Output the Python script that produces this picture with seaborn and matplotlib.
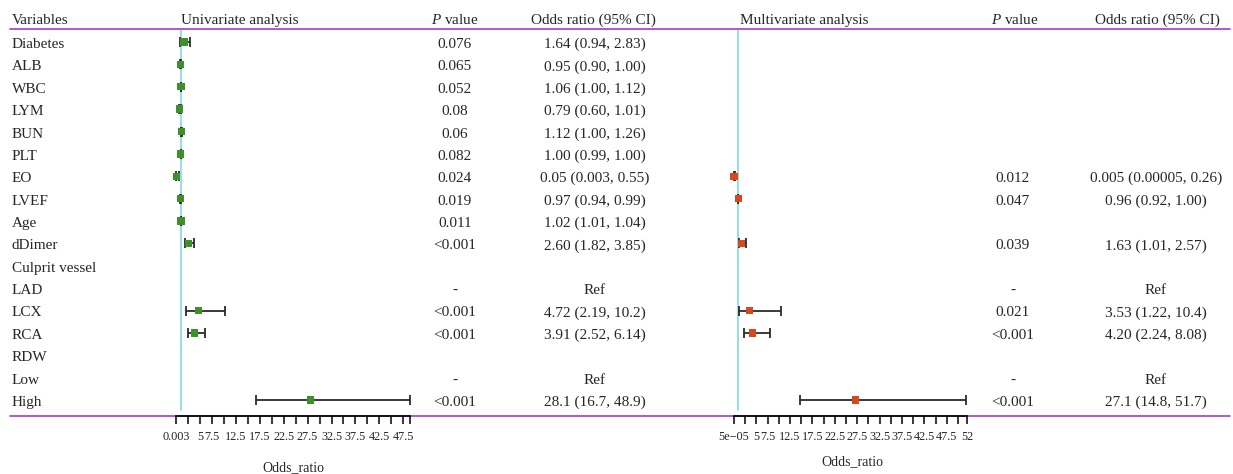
import numpy as np
import pandas as pd
import matplotlib.pyplot as plt
from matplotlib.lines import Line2D
import seaborn as sns

nan = np.nan

variables = ["Diabetes", "ALB", "WBC", "LYM", "BUN", "PLT", "EO", "LVEF", "Age",
             "dDimer", "Culprit vessel", "LAD", "LCX", "RCA", "RDW", "Low", "High"]

# univariate analysis
uni_or = [1.64, 0.95, 1.06, 0.79, 1.12, 1.00, 0.05, 0.97, 1.02, 2.60, nan, nan, 4.72, 3.91, nan, nan, 28.1]
uni_lo = [0.94, 0.90, 1.00, 0.60, 1.00, 0.99, 0.003, 0.94, 1.01, 1.82, nan, nan, 2.19, 2.52, nan, nan, 16.7]
uni_hi = [2.83, 1.00, 1.12, 1.01, 1.26, 1.00, 0.55, 0.99, 1.04, 3.85, nan, nan, 10.2, 6.14, nan, nan, 48.9]
uni_p = ["0.076", "0.065", "0.052", "0.08", "0.06", "0.082", "0.024", "0.019", "0.011", "<0.001",
         "", "-", "<0.001", "<0.001", "", "-", "<0.001"]
uni_ci = ["1.64 (0.94, 2.83)", "0.95 (0.90, 1.00)", "1.06 (1.00, 1.12)", "0.79 (0.60, 1.01)",
          "1.12 (1.00, 1.26)", "1.00 (0.99, 1.00)", "0.05 (0.003, 0.55)", "0.97 (0.94, 0.99)",
          "1.02 (1.01, 1.04)", "2.60 (1.82, 3.85)", "", "Ref", "4.72 (2.19, 10.2)",
          "3.91 (2.52, 6.14)", "", "Ref", "28.1 (16.7, 48.9)"]

# multivariate analysis
multi_or = [nan, nan, nan, nan, nan, nan, 0.005, 0.96, nan, 1.63, nan, nan, 3.53, 4.20, nan, nan, 27.1]
multi_lo = [nan, nan, nan, nan, nan, nan, 0.00005, 0.92, nan, 1.01, nan, nan, 1.22, 2.24, nan, nan, 14.8]
multi_hi = [nan, nan, nan, nan, nan, nan, 0.26, 1.00, nan, 2.57, nan, nan, 10.4, 8.08, nan, nan, 51.7]
multi_p = ["", "", "", "", "", "", "0.012", "0.047", "", "0.039", "", "-", "0.021", "<0.001", "", "-", "<0.001"]
multi_ci = ["", "", "", "", "", "", "0.005 (0.00005, 0.26)", "0.96 (0.92, 1.00)", "",
            "1.63 (1.01, 2.57)", "", "Ref", "3.53 (1.22, 10.4)", "4.20 (2.24, 8.08)", "", "Ref",
            "27.1 (14.8, 51.7)"]

uni_ticks = [0.003] + list(np.arange(2.5, 48, 2.5)) + [48.9]
multi_ticks = [0.00005] + list(np.arange(2.5, 51, 2.5)) + [52]


def tick_labels(ticks, first, last=""):
    labs = []
    for t in ticks:
        if t in (5, 7.5) or (t >= 12.5 and t <= 47.5 and (t - 12.5) % 5 == 0):
            labs.append(f"{t:g}")
        else:
            labs.append("")
    labs[0] = first
    labs[-1] = last
    return labs


sns.set_style("white")
plt.rcParams["font.family"] = ["Liberation Serif", "DejaVu Serif"]
plt.rcParams["mathtext.fontset"] = "custom"
plt.rcParams["mathtext.it"] = "Liberation Serif:italic"
plt.rcParams["mathtext.rm"] = "Liberation Serif"

W, H = 1233, 474
fig = plt.figure(figsize=(W / 100, H / 100), dpi=100)

PURPLE = "#A83BC6"
CYAN = "#8EDCE0"
GREEN = "#3F8F2A"
RED = "#D8481E"
FS = 11

row0, step = 42, 22.375
top_px, bot_px = 30, 416


def fx(x):
    return x / W


def fy(y):
    return 1 - y / H


def draw_panel(left, right, est, lo, hi, color, xlim, ticks, labels):
    ax = fig.add_axes([fx(left), fy(bot_px), (right - left) / W, (bot_px - top_px) / H], zorder=2)
    df = pd.DataFrame({"row": range(len(est)), "est": est, "lo": lo, "hi": hi}).dropna()
    ax.axvline(1, ymin=6 / (bot_px - top_px), ymax=1, color=CYAN, lw=1.3, zorder=1)
    ax.errorbar(df["est"], df["row"], xerr=[df["est"] - df["lo"], df["hi"] - df["est"]],
                fmt="none", ecolor="#2b2b2b", elinewidth=1.3, capsize=3.5, capthick=1.3,
                zorder=2, clip_on=False)
    sns.scatterplot(data=df, x="est", y="row", marker="s", s=28, color=color,
                    edgecolor="none", ax=ax, zorder=3, legend=False, clip_on=False)
    ax.set_xlim(xlim)
    ax.set_ylim(16 + (bot_px - row0 - 16 * step) / step, -(row0 - top_px) / step)
    for s in ["top", "left", "right"]:
        ax.spines[s].set_visible(False)
    ax.spines["bottom"].set_color("black")
    ax.spines["bottom"].set_linewidth(1.2)
    ax.set_yticks([])
    ax.set_xticks(ticks)
    ax.set_xticklabels(labels)
    ax.tick_params(axis="x", direction="out", length=5.5, width=1.1, labelsize=8.8, pad=5.5,
                   bottom=True, color="black")
    ax.set_xlabel("")
    ax.set_ylabel("")
    ax.patch.set_alpha(0)
    return ax


# horizontal rules
for y in (29, 416):
    fig.add_artist(Line2D([fx(10), fx(1230)], [fy(y), fy(y)], color=PURPLE, lw=1.2,
                          transform=fig.transFigure, zorder=0))

draw_panel(176, 410, uni_or, uni_lo, uni_hi, GREEN, (0.003, 48.9),
           uni_ticks, tick_labels(uni_ticks, "0.003"))
draw_panel(734, 967, multi_or, multi_lo, multi_hi, RED, (0.00005, 52),
           multi_ticks, tick_labels(multi_ticks, "5e\u221205", "52"))

# header
hy = fy(24)
kw = dict(va="baseline", fontsize=FS)
fig.text(fx(12), hy, "Variables", ha="left", **kw)
fig.text(fx(181), hy, "Univariate analysis", ha="left", **kw)
fig.text(fx(455), hy, r"$\mathit{P}$ value", ha="center", **kw)
fig.text(fx(593), hy, "Odds ratio (95% CI)", ha="center", **kw)
fig.text(fx(740), hy, "Multivariate analysis", ha="left", **kw)
fig.text(fx(1015), hy, r"$\mathit{P}$ value", ha="center", **kw)
fig.text(fx(1157), hy, "Odds ratio (95% CI)", ha="center", **kw)

for i, name in enumerate(variables):
    y = fy(row0 + i * step + 6)
    fig.text(fx(12), y, name, ha="left", **kw)
    fig.text(fx(455), y, uni_p[i], ha="center", **kw)
    fig.text(fx(595), y, uni_ci[i], ha="center", **kw)
    fig.text(fx(1013), y, multi_p[i], ha="center", **kw)
    fig.text(fx(1156), y, multi_ci[i], ha="center", **kw)

fig.text(fx(293), fy(468), "Odds_ratio", ha="center", va="center", fontsize=10)
fig.text(fx(852), fy(462), "Odds_ratio", ha="center", va="center", fontsize=10)

fig.savefig("out.png", dpi=100)
